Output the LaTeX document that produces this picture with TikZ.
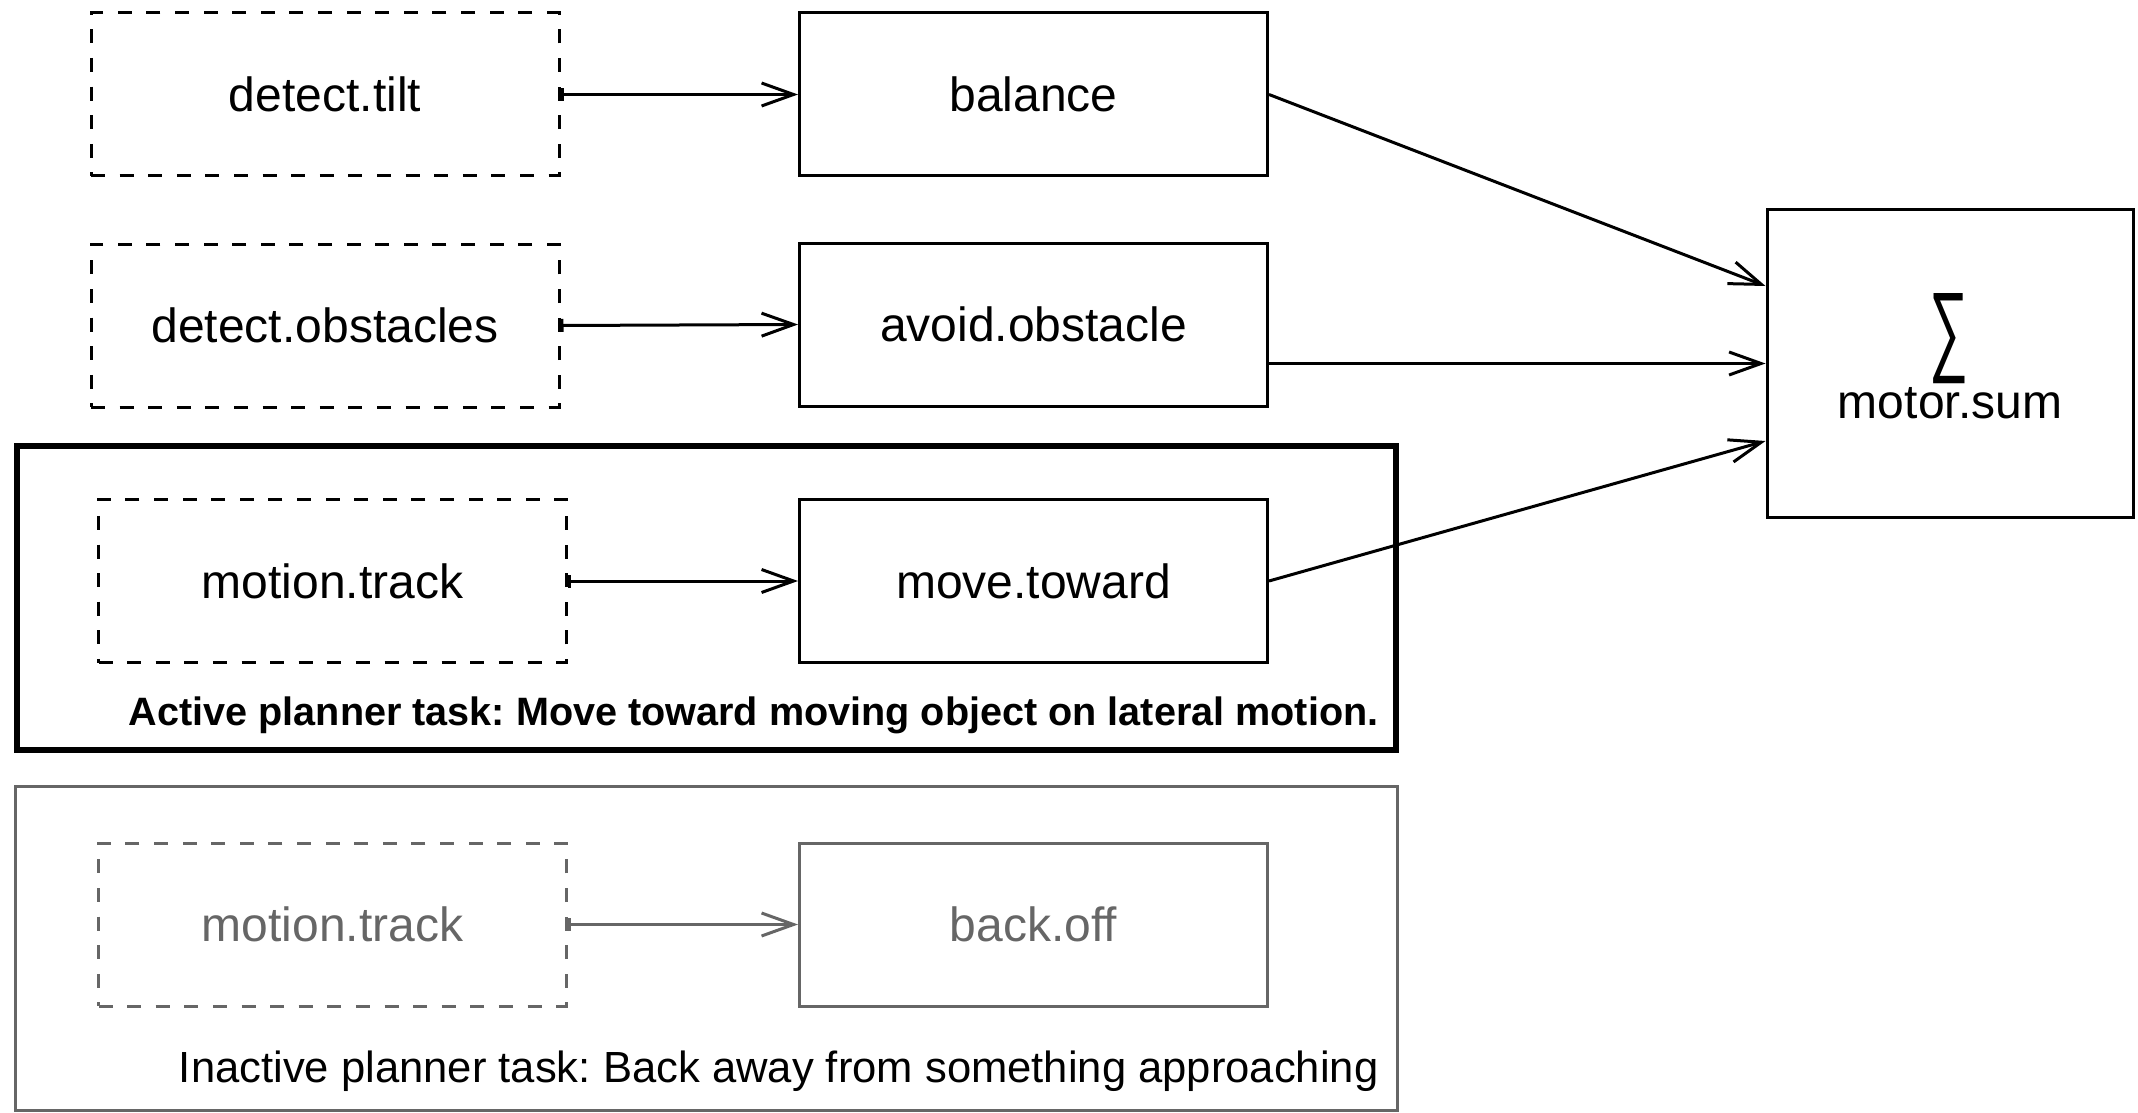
\documentclass[tikz,border=0pt]{standalone}
\usepackage{fontspec}
\setmainfont{Liberation Sans}
\usetikzlibrary{arrows.meta,calc}
\definecolor{dimgray}{HTML}{666666}
\frenchspacing
\begin{document}
\begin{tikzpicture}[x=0.5pt,y=-0.5pt,
  block/.style={draw, line width=1.5pt, minimum width=234pt, minimum height=81.5pt,
    inner sep=0pt, font=\fontsize{24}{28}\selectfont},
  sensor/.style={block, dash pattern=on 7pt off 7.3pt},
  frame/.style={draw, inner sep=0pt},
  caption/.style={anchor=base east, inner sep=0pt},
  flow/.style={line width=1.5pt, -{Straight Barb[length=16pt,width=11.5pt]}},
  feed/.style={line width=1.5pt, {Bar[width=6.5pt]}-{Straight Barb[length=16pt,width=11.5pt]}}]
\useasboundingbox (0,0) rectangle (2138,1113);

% planner task frames
\node[frame, line width=3pt, minimum width=689.5pt, minimum height=152pt] (active) at (706.5,598) {};
\node[frame, draw=dimgray, line width=1.5pt, minimum width=691pt, minimum height=162pt] (inactive) at (706.5,948.5) {};
\node[caption, font=\bfseries\fontsize{19.8}{23}\selectfont] (activelbl) at (1379,725)
  {Active planner task: Move toward moving object on lateral motion.};
\node[caption, font=\fontsize{21.8}{26}\selectfont] (inactivelbl) at (1379,1082)
  {Inactive planner task: Back away from something approaching};

% sensing stages
\node[sensor] (tilt) at (325,94.5) {detect.tilt};
\node[sensor] (obst) at (325,325.5) {detect.obstacles};
\node[sensor] (track) at (332.5,581) {motion.track};
\node[sensor, draw=dimgray, text=dimgray] (trackoff) at (332.5,924.5) {motion.track};

% behaviours
\node[block] (balance) at (1033.5,94.5) {balance};
\node[block] (avoid) at (1033.5,324.5) {avoid.obstacle};
\node[block] (move) at (1033.5,581) {move.toward};
\node[block, draw=dimgray, text=dimgray] (backoff) at (1033.5,924.5) {back.off};

% summing stage
\node[draw, line width=1.5pt, minimum width=183pt, minimum height=153.5pt, inner sep=0pt] (sum) at (1950,363.5) {};
\node[inner sep=0pt] (sumsym) at (1948.5,338.5) {\resizebox{19.5pt}{34.5pt}{∑}};
\node[anchor=base, inner sep=0pt, font=\fontsize{24}{28}\selectfont] (sumlbl) at (1950,418) {motor.sum};
\coordinate (in1) at ($(sum.north west)!0.25!(sum.south west)$);
\coordinate (in2) at ($(sum.north west)!0.5!(sum.south west)$);
\coordinate (in3) at ($(sum.north west)!0.75!(sum.south west)$);

% connections
\draw[feed] (tilt.east) -- (balance.west);
\draw[feed] (obst.east) -- (avoid.west);
\draw[feed] (track.east) -- (move.west);
\draw[feed, draw=dimgray] (trackoff.east) -- (backoff.west);
\draw[flow] (balance.east) -- (in1);
\draw[flow] (avoid.east |- in2) -- (in2);
\draw[flow] (move.east) -- (in3);
\end{tikzpicture}
\end{document}
